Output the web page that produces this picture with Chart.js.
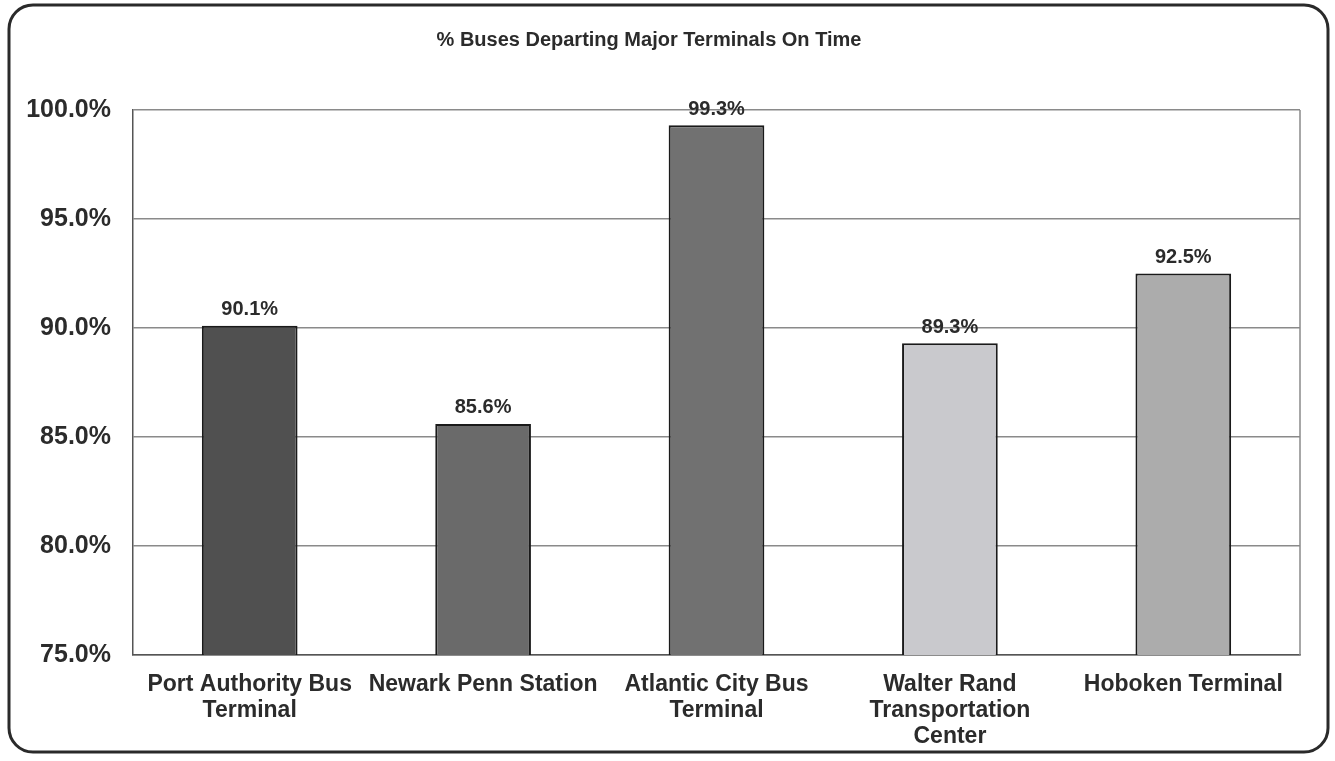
<!DOCTYPE html>
<html>
<head>
<meta charset="utf-8">
<script src="https://cdn.jsdelivr.net/npm/chart.js@4"></script>
<style>
  html, body { margin: 0; padding: 0; background: #fff; }
  #wrap { width: 1335px; height: 761px; }
</style>
</head>
<body>
<div id="wrap"><canvas id="chart" width="1335" height="761"></canvas></div>
<script>
// data
const terminals = [
    ['Port Authority Bus', 'Terminal'],
    'Newark Penn Station',
    ['Atlantic City Bus', 'Terminal'],
    ['Walter Rand', 'Transportation', 'Center'],
    'Hoboken Terminal'
];
const onTime = [90.1, 85.6, 99.3, 89.3, 92.5];
const barColors = ['#505050', '#6a6a6a', '#717171', '#c9c9cd', '#acacac'];
const yTicks = [75, 80, 85, 90, 95, 100];
const chartTitle = '% Buses Departing Major Terminals On Time';

const FONT = '"Liberation Sans", Arial, sans-serif';

// moldura arredondada + titulo
const framePlugin = {
    id: 'frame',
    beforeDraw(chart) {
        const ctx = chart.ctx;
        ctx.save();
        ctx.fillStyle = '#fff';
        ctx.fillRect(0, 0, chart.width, chart.height);
        ctx.strokeStyle = '#2a2a2a';
        ctx.lineWidth = 3;
        ctx.beginPath();
        ctx.roundRect(9, 5, 1319, 747, 24);
        ctx.stroke();
        ctx.fillStyle = '#2b2b2b';
        ctx.font = 'bold 20px ' + FONT;
        ctx.textAlign = 'center';
        ctx.textBaseline = 'middle';
        ctx.fillText(chartTitle, 649, 40);
        ctx.restore();
    },
    afterDatasetsDraw(chart) {
        const ctx = chart.ctx;
        const area = chart.chartArea;
        ctx.save();
        // borda direita da area do grafico
        ctx.strokeStyle = '#8a8a8a';
        ctx.lineWidth = 1.5;
        ctx.beginPath();
        ctx.moveTo(area.right, area.top);
        ctx.lineTo(area.right, area.bottom);
        ctx.stroke();
        // rotulos dos valores
        ctx.fillStyle = '#2b2b2b';
        ctx.font = 'bold 20px ' + FONT;
        ctx.textAlign = 'center';
        ctx.textBaseline = 'bottom';
        chart.getDatasetMeta(0).data.forEach((bar, i) => {
            ctx.fillText(onTime[i].toFixed(1) + '%', bar.x, bar.y - 6);
        });
        ctx.restore();
    }
};

new Chart(document.getElementById('chart'), {
    type: 'bar',
    data: {
        labels: terminals,
        datasets: [{
            data: onTime,
            backgroundColor: barColors,
            borderColor: '#1a1a1a',
            borderWidth: 2,
            borderSkipped: false,
            barPercentage: 0.82,
            categoryPercentage: 0.5
        }]
    },
    plugins: [framePlugin],
    options: {
        responsive: false,
        animation: false,
        layout: { padding: { top: 110, right: 35, left: 0, bottom: 0 } },
        plugins: {
            legend: { display: false },
            tooltip: { enabled: false }
        },
        scales: {
            y: {
                min: 75,
                max: 100,
                afterFit(scale) { scale.width = 133; },
                afterBuildTicks(scale) {
                    scale.ticks = yTicks.map(v => ({ value: v }));
                },
                border: { color: '#555', width: 1.5 },
                grid: { color: '#8a8a8a', lineWidth: 1.5, drawTicks: false },
                ticks: {
                    padding: 22,
                    color: '#2b2b2b',
                    font: { family: FONT, size: 25, weight: 'bold' },
                    callback: v => v.toFixed(1) + '%'
                }
            },
            x: {
                afterFit(scale) { scale.height = 106; },
                border: { color: '#555', width: 1.5 },
                grid: { display: false },
                ticks: {
                    padding: 9,
                    maxRotation: 0,
                    autoSkip: false,
                    color: '#2b2b2b',
                    font: { family: FONT, size: 23, weight: 'bold', lineHeight: 1.13 }
                }
            }
        }
    }
});
</script>
</body>
</html>
